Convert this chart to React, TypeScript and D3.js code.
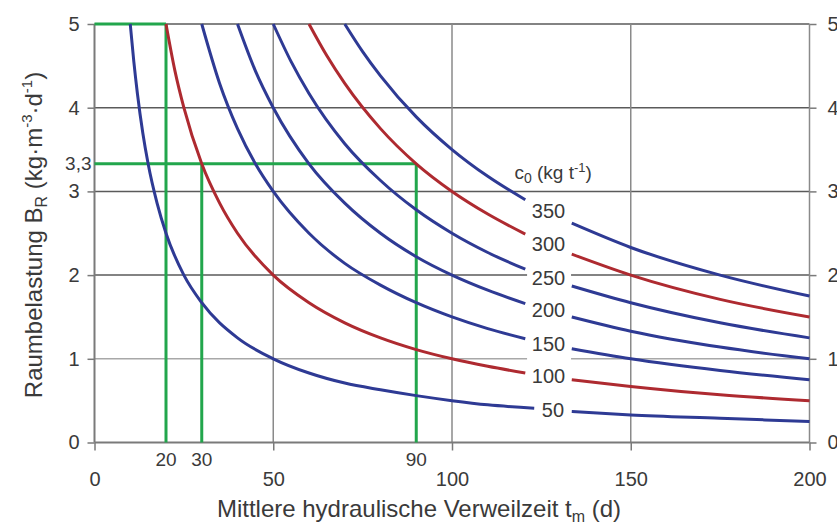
import { useEffect, useRef } from "react";
import * as d3 from "d3";

// axis ticks
const xTicks = [0, 50, 100, 150, 200];
const yTicks = [0, 1, 2, 3, 4, 5];
const xGrid = [50, 100, 150];
const yGrid = [1, 2, 3, 4, 5];

// green reading aids
const guideX = [20, 30, 90];
const guideXTop = [5, 3.33, 3.33];
const guideY = [5, 3.33];
const guideYEnd = [20, 90];
const guideYLabel = "3,3";

// c0 curves (kg/t), points [t, B]
const c0Labels = ["50", "100", "150", "200", "250", "300", "350"];
const c0Colors = ["blue", "red", "blue", "blue", "blue", "red", "blue"];

const left50 = [[10, 5], [11, 4.55], [12, 4.17], [13.5, 3.7], [15, 3.33], [17.5, 2.86], [20, 2.5], [25, 2], [30, 1.67], [40, 1.25], [50, 1], [60, 0.83], [70, 0.71], [80, 0.63], [90, 0.56], [100, 0.5], [110, 0.45], [123, 0.41]];
const right50 = [[133.5, 0.37], [150, 0.33], [175, 0.29], [200, 0.25]];

const left100 = [[20, 5], [22.5, 4.44], [25, 4], [30, 3.33], [35, 2.86], [40, 2.5], [50, 2], [60, 1.67], [70, 1.43], [80, 1.25], [90, 1.11], [100, 1], [110, 0.91], [120.5, 0.83]];
const right100 = [[133.5, 0.75], [150, 0.67], [175, 0.57], [200, 0.5]];

const left150 = [[30, 5], [35, 4.29], [40, 3.75], [45, 3.33], [50, 3], [60, 2.5], [70, 2.14], [80, 1.88], [90, 1.67], [100, 1.5], [110, 1.36], [120.5, 1.24]];
const right150 = [[133.5, 1.12], [150, 1], [175, 0.86], [200, 0.75]];

const left200 = [[40, 5], [45, 4.44], [50, 4], [60, 3.33], [70, 2.86], [80, 2.5], [90, 2.22], [100, 2], [110, 1.82], [120.5, 1.66]];
const right200 = [[133.5, 1.5], [150, 1.33], [175, 1.14], [200, 1]];

const left250 = [[50, 5], [55, 4.55], [60, 4.17], [70, 3.57], [80, 3.13], [90, 2.78], [100, 2.5], [110, 2.27], [120.5, 2.07]];
const right250 = [[133.5, 1.87], [150, 1.67], [175, 1.43], [200, 1.25]];

const left300 = [[60, 5], [65, 4.62], [70, 4.29], [80, 3.75], [90, 3.33], [100, 3], [110, 2.73], [120.5, 2.49]];
const right300 = [[133.5, 2.25], [150, 2], [175, 1.71], [200, 1.5]];

const left350 = [[70, 5], [75, 4.67], [80, 4.38], [90, 3.89], [100, 3.5], [110, 3.18], [120.5, 2.9]];
const right350 = [[133.5, 2.62], [150, 2.33], [175, 2], [200, 1.75]];

const leftSegs = [left50, left100, left150, left200, left250, left300, left350];
const rightSegs = [right50, right100, right150, right200, right250, right300, right350];

const legendTitlePos = [128.3, 3.22];

const COLORS = { blue: "#2e3a94", red: "#ae2a30" };
const GREEN = "#22a64c";
const TEXT = "#3a3a3a";
const FONT = "'Liberation Sans', Arial, sans-serif";

export default function App() {
  const ref = useRef<SVGSVGElement>(null);

  useEffect(() => {
    const svg = d3.select(ref.current);
    svg.selectAll("*").remove();

    const x = d3.scaleLinear().domain([0, 200]).range([94.5, 809.5]);
    const y = d3.scaleLinear().domain([0, 5]).range([442.5, 24]);

    svg.append("rect").attr("width", 837).attr("height", 528).attr("fill", "#fff");

    // grid
    const g = svg.append("g");
    g.selectAll(".hg")
      .data(yGrid)
      .join("line")
      .attr("x1", x(0))
      .attr("x2", x(200))
      .attr("y1", (d) => y(d))
      .attr("y2", (d) => y(d))
      .attr("stroke", (d) => (d === 1 ? "#a8a8a8" : "#5a5a5a"))
      .attr("stroke-width", 1.5);
    g.selectAll(".vg")
      .data(xGrid)
      .join("line")
      .attr("x1", (d) => x(d))
      .attr("x2", (d) => x(d))
      .attr("y1", y(0))
      .attr("y2", y(5))
      .attr("stroke", "#8a8a8a")
      .attr("stroke-width", 1.5);

    // white gap behind curve labels
    g.append("rect")
      .attr("x", x(121))
      .attr("y", y(2.95))
      .attr("width", x(133.3) - x(121))
      .attr("height", y(0.3) - y(2.95))
      .attr("fill", "#fff");

    // axes
    const styleAxis = (sel: any) => {
      sel.select(".domain").remove();
      sel.selectAll(".tick line").attr("stroke", "#7a7a7a").attr("stroke-width", 1.5);
      sel.selectAll(".tick text").attr("fill", TEXT).attr("font-size", 20).attr("font-family", FONT);
    };
    svg.append("g")
      .attr("transform", `translate(${x(0)},0)`)
      .call(d3.axisLeft(y).tickValues(yTicks).tickFormat(d3.format("d")).tickSize(7).tickPadding(8))
      .call(styleAxis);
    svg.append("g")
      .attr("transform", `translate(${x(200)},0)`)
      .call(d3.axisRight(y).tickValues(yTicks).tickFormat(d3.format("d")).tickSize(7).tickPadding(11))
      .call(styleAxis);
    svg.append("g")
      .attr("transform", `translate(0,${y(0)})`)
      .call(d3.axisBottom(x).tickValues(xTicks).tickFormat(d3.format("d")).tickSize(8).tickPadding(21))
      .call(styleAxis);

    // axis lines
    svg.append("line")
      .attr("x1", x(0)).attr("x2", x(0)).attr("y1", y(0)).attr("y2", y(5))
      .attr("stroke", "#7a7a7a").attr("stroke-width", 2);
    svg.append("line")
      .attr("x1", x(200)).attr("x2", x(200)).attr("y1", y(0)).attr("y2", y(5))
      .attr("stroke", "#8a8a8a").attr("stroke-width", 1.5);
    svg.append("line")
      .attr("x1", x(0)).attr("x2", x(200)).attr("y1", y(0)).attr("y2", y(0))
      .attr("stroke", "#7a7a7a").attr("stroke-width", 2);

    // green guides
    const gg = svg.append("g").attr("stroke", GREEN).attr("stroke-width", 3);
    gg.selectAll(".gv")
      .data(guideX)
      .join("line")
      .attr("x1", (d) => x(d))
      .attr("x2", (d) => x(d))
      .attr("y1", y(0))
      .attr("y2", (d, i) => y(guideXTop[i]));
    gg.selectAll(".gh")
      .data(guideY)
      .join("line")
      .attr("x1", x(0))
      .attr("x2", (d, i) => x(guideYEnd[i]))
      .attr("y1", (d) => y(d))
      .attr("y2", (d) => y(d));

    svg.append("g")
      .selectAll("text")
      .data(guideX)
      .join("text")
      .attr("x", (d) => x(d))
      .attr("y", y(0) + 23)
      .attr("text-anchor", "middle")
      .attr("font-size", 19)
      .attr("font-family", FONT)
      .attr("fill", TEXT)
      .text((d) => d);
    svg.append("text")
      .attr("x", x(0) - 3)
      .attr("y", y(guideY[1]) + 6)
      .attr("text-anchor", "end")
      .attr("font-size", 19)
      .attr("font-family", FONT)
      .attr("fill", TEXT)
      .text(guideYLabel);

    // curves
    const line = d3
      .line<number[]>()
      .x((d) => x(d[0]))
      .y((d) => y(d[1]))
      .curve(d3.curveMonotoneX);
    const cg = svg.append("g").attr("fill", "none").attr("stroke-width", 3);
    leftSegs.forEach((seg, i) => {
      const col = COLORS[c0Colors[i] as "blue" | "red"];
      cg.append("path").attr("d", line(seg)).attr("stroke", col);
      cg.append("path").attr("d", line(rightSegs[i])).attr("stroke", col);
    });

    // curve labels, centred in the gaps
    svg.append("g")
      .selectAll("text")
      .data(c0Labels)
      .join("text")
      .attr("x", (d, i) => {
        const a = leftSegs[i][leftSegs[i].length - 1];
        const b = rightSegs[i][0];
        return x((a[0] + b[0]) / 2);
      })
      .attr("y", (d, i) => {
        const a = leftSegs[i][leftSegs[i].length - 1];
        const b = rightSegs[i][0];
        return y((a[1] + b[1]) / 2) + 7;
      })
      .attr("text-anchor", "middle")
      .attr("font-size", 20)
      .attr("font-family", FONT)
      .attr("fill", TEXT)
      .text((d) => d);

    const lt = svg.append("text")
      .attr("x", x(legendTitlePos[0]))
      .attr("y", y(legendTitlePos[1]) + 6)
      .attr("text-anchor", "middle")
      .attr("font-size", 19)
      .attr("font-family", FONT)
      .attr("fill", TEXT);
    lt.append("tspan").text("c");
    lt.append("tspan").attr("font-size", 14).attr("dy", 4).text("0");
    lt.append("tspan").attr("dy", -4).text(" (kg t");
    lt.append("tspan").attr("font-size", 13).attr("dy", -7).text("-1");
    lt.append("tspan").attr("dy", 7).text(")");

    // axis titles
    const xt = svg.append("text")
      .attr("x", 419)
      .attr("y", 517)
      .attr("text-anchor", "middle")
      .attr("font-size", 24)
      .attr("font-family", FONT)
      .attr("fill", TEXT);
    xt.append("tspan").text("Mittlere hydraulische Verweilzeit t");
    xt.append("tspan").attr("font-size", 16).attr("dy", 5).text("m");
    xt.append("tspan").attr("dy", -5).text(" (d)");

    const yt = svg.append("text")
      .attr("transform", "translate(42,235) rotate(-90)")
      .attr("text-anchor", "middle")
      .attr("font-size", 24)
      .attr("font-family", FONT)
      .attr("fill", TEXT);
    yt.append("tspan").text("Raumbelastung B");
    yt.append("tspan").attr("font-size", 16).attr("dy", 5).text("R");
    yt.append("tspan").attr("dy", -5).text(" (kg·m");
    yt.append("tspan").attr("font-size", 15).attr("dy", -10).text("-3");
    yt.append("tspan").attr("dy", 10).text("·d");
    yt.append("tspan").attr("font-size", 15).attr("dy", -10).text("-1");
    yt.append("tspan").attr("dy", 10).text(")");
  }, []);

  return (
    <svg
      ref={ref}
      width={837}
      height={528}
      style={{ position: "absolute", left: 0, top: 0 }}
    />
  );
}
